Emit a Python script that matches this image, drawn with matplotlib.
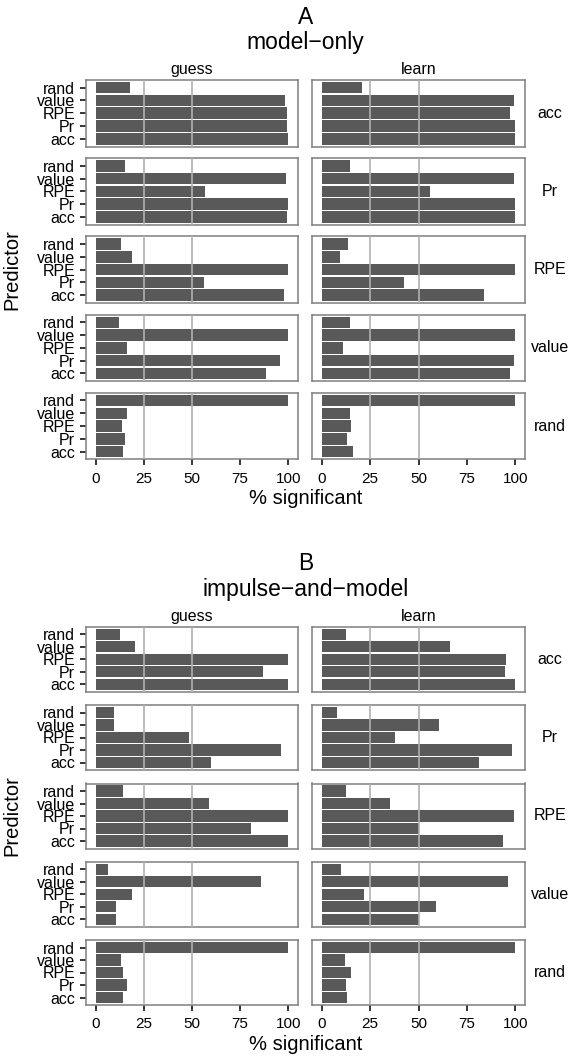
import matplotlib
matplotlib.use('Agg')
import matplotlib.pyplot as plt

plt.rcParams['font.family'] = ['Liberation Sans', 'DejaVu Sans']

# predictors, bottom to top inside each panel
predictors = ['acc', 'Pr', 'RPE', 'value', 'rand']
# facet rows (top to bottom) and columns
row_names = ['acc', 'Pr', 'RPE', 'value', 'rand']
col_names = ['guess', 'learn']
xticks = [0, 25, 50, 75, 100]
vlines = [25, 50]

# % significant, one list per facet row, values in predictor order
A_guess = [
    [100, 99.5, 99.5, 98, 18],
    [99.5, 100, 57, 99, 15],
    [97.5, 56, 100, 19, 13],
    [88.5, 95.5, 16.5, 100, 12],
    [14, 15, 13.5, 16.5, 100],
]
A_learn = [
    [100, 100, 97.5, 99.5, 21],
    [100, 100, 56, 99.5, 14.5],
    [84, 42.5, 100, 9.5, 13.5],
    [97.5, 99.5, 11, 100, 14.5],
    [16, 13, 15, 14.5, 100],
]
B_guess = [
    [100, 87, 100, 20.5, 12.5],
    [60, 96, 48.5, 9.5, 9.5],
    [100, 80.5, 100, 59, 14],
    [10.5, 10.5, 19, 86, 6.5],
    [14, 16.5, 14, 13, 100],
]
B_learn = [
    [100, 94.5, 95, 66.5, 12.5],
    [81.5, 98.5, 38, 60.5, 8],
    [93.5, 50, 99.5, 35.5, 12.5],
    [50.5, 59, 22, 96, 10],
    [13, 12.5, 15, 12, 100],
]

W, H = 571, 1057
fig = plt.figure(figsize=(W / 100, H / 100), dpi=100)

col_x = [(86, 298), (312, 525)]


def px_axes(x0, x1, y0, y1):
    # pixel box (top-left origin) -> figure fraction
    return fig.add_axes([x0 / W, 1 - y1 / H, (x1 - x0) / W, (y1 - y0) / H])


def draw_block(letter, subtitle, data, row_tops, panel_h):
    top = row_tops[0]
    fig.text(305.5 / W, 1 - (top - 63) / H, letter, ha='center', va='center', fontsize=16.5)
    fig.text(305.5 / W, 1 - (top - 37) / H, subtitle, ha='center', va='center', fontsize=16.5)
    for c, cname in enumerate(col_names):
        x0, x1 = col_x[c]
        fig.text((x0 + x1) / 2 / W, 1 - (top - 10.5) / H, cname,
                 ha='center', va='center', fontsize=11.5)
        for r, rname in enumerate(row_names):
            y0 = row_tops[r]
            ax = px_axes(x0, x1, y0, y0 + panel_h)
            ax.barh(range(len(predictors)), data[c][r], height=0.9, color='#595959', zorder=2)
            for v in vlines:
                ax.axvline(v, color='#b0b0b0', lw=1.2, zorder=3)
            ax.set_xlim(-5, 105)
            ax.set_ylim(-0.6, len(predictors) - 0.4)
            for s in ax.spines.values():
                s.set_color('#7f7f7f')
                s.set_linewidth(1.1)
            ax.tick_params(length=4.3, width=1.1, color='black')
            if c == 0:
                ax.set_yticks(range(len(predictors)))
                ax.set_yticklabels(predictors, fontsize=11.5)
                ax.tick_params(axis='y', pad=3.5)
            else:
                ax.set_yticks([])
            if r == len(row_names) - 1:
                ax.set_xticks(xticks)
                ax.set_xticklabels([str(t) for t in xticks], fontsize=11)
                ax.tick_params(axis='x', pad=4.5)
            else:
                ax.set_xticks([])
            if c == 1:
                ax.text(1.0 + 25 / (x1 - x0), 0.5, rname, transform=ax.transAxes,
                        ha='center', va='center', fontsize=11.5)
    bottom = row_tops[-1] + panel_h
    fig.text(305.5 / W, 1 - (bottom + 39) / H, '% significant', ha='center', va='center', fontsize=14.5)
    mid = (top + bottom) / 2
    fig.text(12 / W, 1 - mid / H, 'Predictor', ha='center', va='center', rotation=90, fontsize=14.5)


draw_block('A', 'model\u2212only', [A_guess, A_learn],
           [80, 158.2, 236.4, 314.6, 392.8], 66.5)
draw_block('B', 'impulse\u2212and\u2212model', [B_guess, B_learn],
           [626.7, 705, 783.5, 861.7, 940], 65)

fig.savefig('out.png', dpi=100)
